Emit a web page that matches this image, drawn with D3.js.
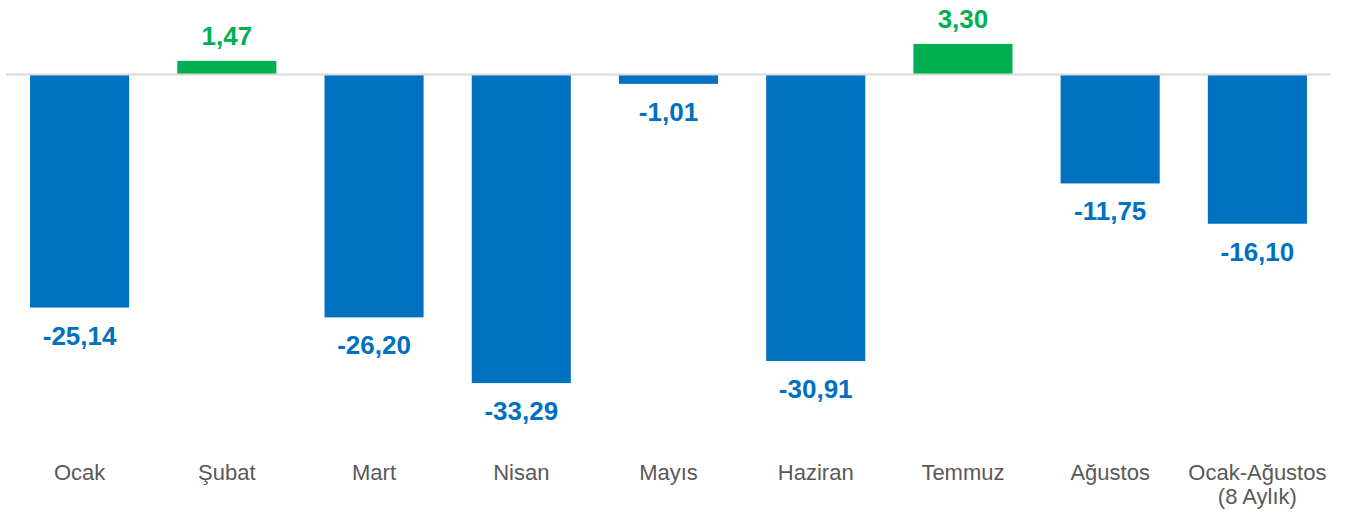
<!DOCTYPE html>
<html>
<head>
<meta charset="utf-8">
<script src="https://cdn.jsdelivr.net/npm/d3@7"></script>
<style>
    body { margin: 0; background: #fff; }
    svg { display: block; }
</style>
</head>
<body>
<div id="chart"></div>
<script>
// chart data
const categories = ["Ocak", "Şubat", "Mart", "Nisan", "Mayıs", "Haziran", "Temmuz", "Ağustos", "Ocak-Ağustos\n(8 Aylık)"];
const values = [-25.14, 1.47, -26.20, -33.29, -1.01, -30.91, 3.30, -11.75, -16.10];
const valueLabels = ["-25,14", "1,47", "-26,20", "-33,29", "-1,01", "-30,91", "3,30", "-11,75", "-16,10"];

const width = 1351, height = 515;
const zeroY = 74.5, pxPerUnit = 9.27;
const blue = "#0070C0", green = "#00B050";

let svg = d3.select("#chart")
    .append("svg")
    .attr("width", width)
    .attr("height", height);

let x = d3.scaleBand()
    .domain(categories)
    .range([6, 1331])
    .paddingInner(0.327)
    .paddingOuter(0.1635);

let y = d3.scaleLinear()
    .domain([-40, 0])
    .range([zeroY + 40 * pxPerUnit, zeroY]);

let data = categories.map((c, i) => ({cat: c, value: values[i], label: valueLabels[i]}));

// bars
svg.selectAll(".bar")
    .data(data)
    .enter()
    .append("rect")
    .attr("class", "bar")
    .attr("x", d => x(d.cat))
    .attr("width", x.bandwidth())
    .attr("y", d => Math.min(y(d.value), y(0)))
    .attr("height", d => Math.abs(y(d.value) - y(0)))
    .attr("fill", d => d.value < 0 ? blue : green);

// zero line
svg.append("line")
    .attr("x1", x.range()[0])
    .attr("x2", x.range()[1])
    .attr("y1", y(0))
    .attr("y2", y(0))
    .attr("stroke", "#d9d9d9")
    .attr("stroke-width", 2);

// value labels
svg.selectAll(".value-label")
    .data(data)
    .enter()
    .append("text")
    .attr("class", "value-label")
    .attr("x", d => x(d.cat) + x.bandwidth() / 2)
    .attr("y", d => d.value < 0 ? y(d.value) + 37 : y(d.value) - 16)
    .attr("text-anchor", "middle")
    .attr("font-family", "'Liberation Sans', Arial, sans-serif")
    .attr("font-weight", "bold")
    .attr("font-size", "26px")
    .attr("fill", d => d.value < 0 ? blue : green)
    .text(d => d.label);

// category labels
let catLabels = svg.selectAll(".cat-label")
    .data(data)
    .enter()
    .append("text")
    .attr("class", "cat-label")
    .attr("x", d => x(d.cat) + x.bandwidth() / 2)
    .attr("y", 480)
    .attr("text-anchor", "middle")
    .attr("font-family", "'Liberation Sans', Arial, sans-serif")
    .attr("font-size", "22px")
    .attr("fill", "#595959");

catLabels.selectAll("tspan")
    .data(d => d.cat.split("\n").map(t => ({t: t, x: x(d.cat) + x.bandwidth() / 2})))
    .enter()
    .append("tspan")
    .attr("x", d => d.x)
    .attr("dy", (d, i) => i === 0 ? 0 : 24)
    .text(d => d.t);
</script>
</body>
</html>
